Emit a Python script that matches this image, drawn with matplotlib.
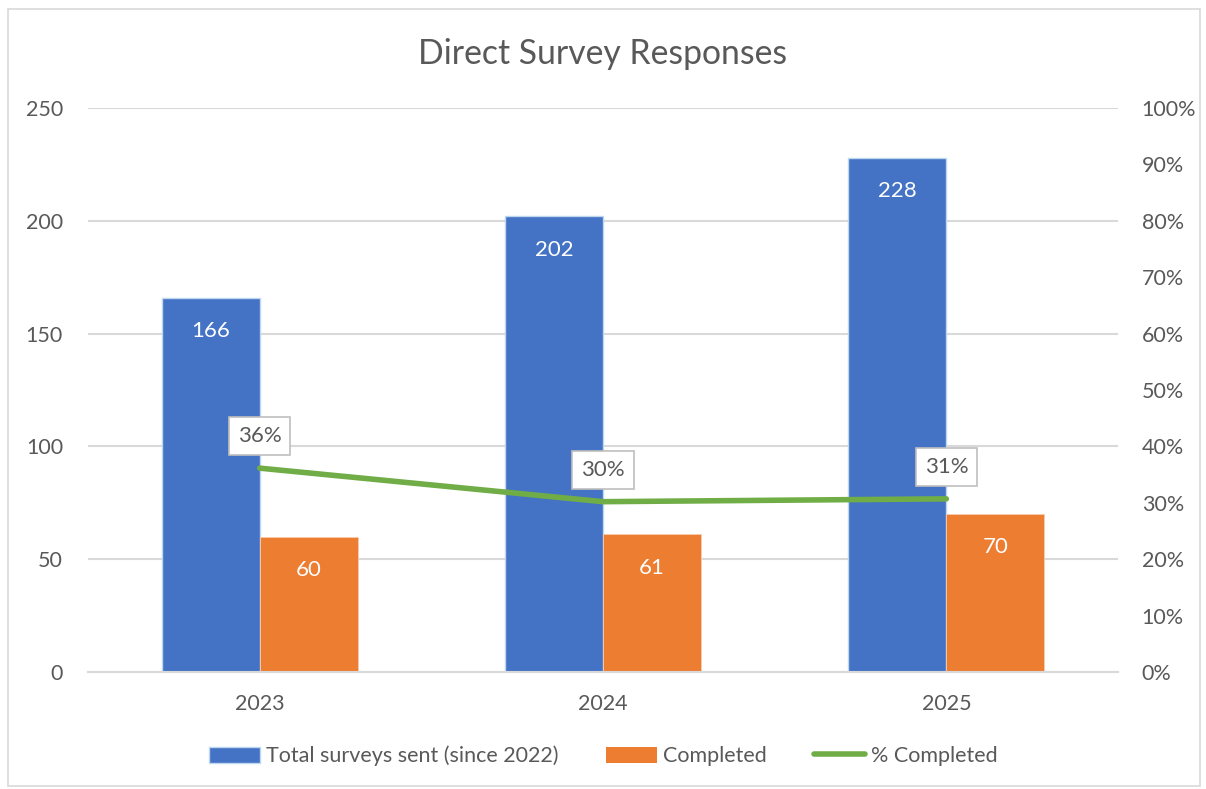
import matplotlib
matplotlib.use("Agg")
import matplotlib.pyplot as plt
import numpy as np
from matplotlib.patches import Rectangle, Patch
from matplotlib.lines import Line2D

plt.rcParams['font.family'] = ['Lato', 'DejaVu Sans']

years = ["2023", "2024", "2025"]
total_sent = [166, 202, 228]
completed = [60, 61, 70]
pct_completed = [c / t for c, t in zip(completed, total_sent)]

BLUE = "#4472C4"
ORANGE = "#ED7D31"
GREEN = "#70AD47"
GRID = "#D9D9D9"
TEXT = "#595959"
FS = 15.5

fig = plt.figure(figsize=(12.06, 7.89), dpi=100)
# Chart frame
fig.patches.append(Rectangle((8 / 1206, 1 - 786 / 789), 1192 / 1206, 777 / 789,
                             transform=fig.transFigure, fill=False,
                             edgecolor=GRID, linewidth=1.2))

ax = fig.add_axes([88 / 1206, 117 / 789, 1030 / 1206, 564 / 789])
ax2 = ax.twinx()

x = np.arange(len(years))
w = 0.285
b1 = ax.bar(x - w / 2, total_sent, width=w, color=BLUE, edgecolor="#BDD7EE",
            linewidth=1.0, zorder=2)
b2 = ax.bar(x + w / 2, completed, width=w, color=ORANGE, edgecolor="#F8CBAD",
            linewidth=0.6, zorder=2)

for bars, vals in ((b1, total_sent), (b2, completed)):
    for rect, v in zip(bars, vals):
        ax.annotate(str(v), (rect.get_x() + rect.get_width() / 2, v),
                    xytext=(0, -24), textcoords="offset points", ha="center",
                    va="center", color="white", fontsize=16)

ax.set_xlim(-0.5, 2.5)
ax.set_ylim(0, 250)
ax.set_yticks(range(0, 251, 50))
ax.set_xticks(x)
ax.set_xticklabels(years)
ax.grid(axis="y", color=GRID, linewidth=1.5, zorder=0)
ax.set_axisbelow(True)
for s in ax.spines.values():
    s.set_visible(False)
for s in ax2.spines.values():
    s.set_visible(False)
ax.spines["bottom"].set_visible(True)
ax.spines["bottom"].set_color(GRID)
ax.spines["bottom"].set_linewidth(1.5)
ax.tick_params(axis="both", length=0, labelsize=FS, labelcolor=TEXT)
ax.tick_params(axis="y", pad=18)
ax.tick_params(axis="x", pad=16)

ax2.plot(x, pct_completed, color=GREEN, linewidth=4, solid_capstyle="round", zorder=3)
ax2.set_ylim(0, 1.0)
pct_ticks = np.arange(0, 1.01, 0.1)
ax2.set_yticks(pct_ticks)
ax2.set_yticklabels([f"{int(round(t * 100))}%" for t in pct_ticks])
ax2.tick_params(axis="y", length=0, labelsize=FS, labelcolor=TEXT, pad=17)

for xi, p in zip(x, pct_completed):
    ax2.annotate(f"{p:.0%}", (xi, p), xytext=(0, 23), textcoords="offset points",
                 ha="center", va="center", color=TEXT, fontsize=16,
                 bbox=dict(boxstyle="square,pad=0.4", facecolor="white",
                           edgecolor="#BFBFBF", linewidth=1.2))

fig.text(0.5, 1 - 54 / 789, "Direct Survey Responses", ha="center", va="center",
         fontsize=24.3, color=TEXT)

handles = [Patch(facecolor=BLUE, edgecolor="#BDD7EE", label="Total surveys sent (since 2022)"),
           Patch(facecolor=ORANGE, label="Completed"),
           Line2D([0], [0], color=GREEN, linewidth=4, solid_capstyle="round",
                  label="% Completed")]
fig.legend(handles=handles, loc="center", bbox_to_anchor=(0.5, 1 - 756 / 789),
           ncol=3, frameon=False, fontsize=FS, labelcolor=TEXT,
           handlelength=2.4, handleheight=0.8, handletextpad=0.25,
           columnspacing=2.2)

fig.savefig("out.png", dpi=100)
